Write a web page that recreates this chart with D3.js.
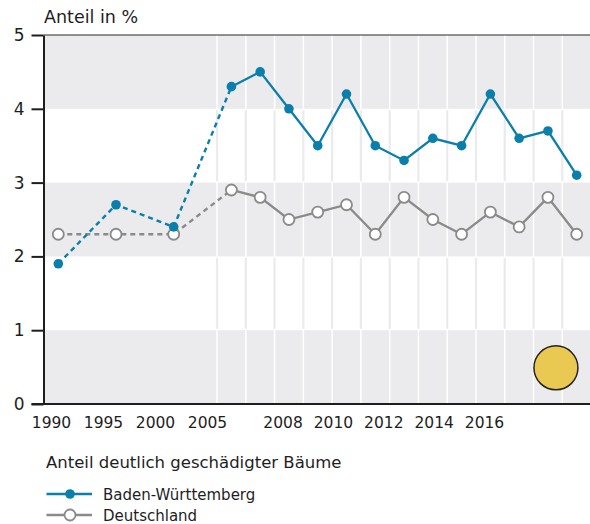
<!DOCTYPE html>
<html>
<head>
<meta charset="utf-8">
<script src="https://cdnjs.cloudflare.com/ajax/libs/d3/7.8.5/d3.min.js"></script>
<style>
  body { margin: 0; background: #fff; }
  text { font-family: "DejaVu Sans", sans-serif; fill: #1e1e1e; }
</style>
</head>
<body>
<div id="chart"></div>
<script>
// data
const years = [1990, 1995, 2000, 2005, 2006, 2007, 2008, 2009, 2010, 2011, 2012, 2013, 2014, 2015, 2016, 2017]
const bwValues = [1.9, 2.7, 2.4, 4.3, 4.5, 4.0, 3.5, 4.2, 3.5, 3.3, 3.6, 3.5, 4.2, 3.6, 3.7, 3.1]
const deValues = [2.3, 2.3, 2.3, 2.9, 2.8, 2.5, 2.6, 2.7, 2.3, 2.8, 2.5, 2.3, 2.6, 2.4, 2.8, 2.3]
const xTickYears = [1990, 1995, 2000, 2005, 2008, 2010, 2012, 2014, 2016]
const yTicks = [0, 1, 2, 3, 4, 5]
const seriesNames = ['Baden-Württemberg', 'Deutschland']
const yTitle = 'Anteil in %'
const legendTitle = 'Anteil deutlich geschädigter Bäume'

const width = 590, height = 524
const blue = '#0a7fab', grey = '#8a8a8a', band = '#ebebed'

const svg = d3.select('#chart').append('svg')
    .attr('width', width)
    .attr('height', height)

const plotLeft = 43.5, plotRight = width, plotTop = 35, plotBottom = 404

// data positions: five-year steps first, then yearly
const x = d3.scaleLinear()
    .domain([1990, 2005, 2017])
    .range([58.3, 231.4, 576.7])
// tick labels sit on their own, slightly shifted grid
const xLab = d3.scaleLinear()
    .domain([1990, 2005, 2016])
    .range([51, 207, 484])
const y = d3.scaleLinear()
    .domain([0, 5])
    .range([plotBottom, plotTop])

// horizontal bands
const bands = [[4, 5], [2, 3], [0, 1]]
svg.selectAll('rect.band')
    .data(bands)
    .join('rect')
        .attr('class', 'band')
        .attr('x', plotLeft)
        .attr('y', d => y(d[1]))
        .attr('width', plotRight - plotLeft)
        .attr('height', d => y(d[0]) - y(d[1]))
        .attr('fill', band)

// column separators from 2005 onward
const yearly = years.filter(d => d >= 2005)
const step = x(2006) - x(2005)
const seps = yearly.slice(0, -1).map(d => (x(d) + x(d + 1)) / 2)
seps.unshift(x(2005) - step / 2)

yTicks.slice(0, -1).forEach(v => {
    let isGrey = bands.some(b => b[0] === v)
    svg.append('g')
        .selectAll('line')
        .data(seps)
        .join('line')
            .attr('x1', d => d).attr('x2', d => d)
            .attr('y1', y(v + 1) + (isGrey ? 0 : 1.5))
            .attr('y2', y(v) - (isGrey ? 0 : 1.5))
            .attr('stroke', isGrey ? '#fff' : band)
            .attr('stroke-width', isGrey ? 1.5 : 2.2)
})

// top border
svg.append('line')
    .attr('x1', plotLeft).attr('x2', plotRight)
    .attr('y1', plotTop).attr('y2', plotTop)
    .attr('stroke', '#2a2a2a')
    .attr('stroke-width', 1.2)

// y axis
const yAxis = svg.append('g')
    .attr('transform', 'translate(' + plotLeft + ',0)')
    .call(d3.axisLeft(y).tickValues(yTicks).tickSize(12).tickSizeOuter(0).tickPadding(7).tickFormat(d3.format('d')))
yAxis.selectAll('path, line').attr('stroke', '#1e1e1e').attr('stroke-width', 2)
yAxis.selectAll('text')
    .attr('font-size', 17)
    .attr('font-family', '"DejaVu Sans", sans-serif')
    .attr('fill', '#1e1e1e')

// baseline
svg.append('line')
    .attr('x1', plotLeft - 12).attr('x2', plotRight)
    .attr('y1', y(0)).attr('y2', y(0))
    .attr('stroke', '#1e1e1e')
    .attr('stroke-width', 2)

// x labels
const xAxis = svg.append('g')
    .attr('transform', 'translate(0,' + plotBottom + ')')
    .call(d3.axisBottom(xLab).tickValues(xTickYears).tickSize(0).tickPadding(13).tickFormat(d3.format('d')))
xAxis.select('.domain').remove()
xAxis.selectAll('text')
    .attr('font-size', 15.5)
    .attr('font-family', '"DejaVu Sans", sans-serif')
    .attr('fill', '#1e1e1e')

// y title
svg.append('text')
    .attr('x', 44)
    .attr('y', 23)
    .attr('font-size', 17.5)
    .text(yTitle)

// series
const series = [
    {name: seriesNames[1], values: deValues, color: grey, hollow: true},
    {name: seriesNames[0], values: bwValues, color: blue, hollow: false}
]

const line = d3.line()
    .x(d => x(d.year))
    .y(d => y(d.value))

series.forEach(s => {
    let pts = years.map((yr, i) => ({year: yr, value: s.values[i]}))
    let early = pts.filter(d => d.year <= 2005)
    let late = pts.filter(d => d.year >= 2005)
    let g = svg.append('g')
    g.append('path')
        .attr('d', line(early))
        .attr('fill', 'none')
        .attr('stroke', s.color)
        .attr('stroke-width', 2.4)
        .attr('stroke-dasharray', '5,4')
    g.append('path')
        .attr('d', line(late))
        .attr('fill', 'none')
        .attr('stroke', s.color)
        .attr('stroke-width', 2.3)
    g.selectAll('circle')
        .data(pts)
        .join('circle')
            .attr('cx', d => x(d.year))
            .attr('cy', d => y(d.value))
            .attr('r', s.hollow ? 5.5 : 4.8)
            .attr('fill', s.hollow ? '#fff' : s.color)
            .attr('stroke', s.hollow ? s.color : 'none')
            .attr('stroke-width', 1.8)
})

// status indicator
svg.append('circle')
    .attr('cx', x(2016) + 8)
    .attr('cy', y(0.49))
    .attr('r', 22)
    .attr('fill', '#e9c952')
    .attr('stroke', '#222')
    .attr('stroke-width', 1.5)

// legend
svg.append('text')
    .attr('x', 46)
    .attr('y', 468)
    .attr('font-size', 16.5)
    .text(legendTitle)

const legend = svg.append('g')
    .selectAll('g')
    .data([series[1], series[0]])
    .join('g')
        .attr('transform', (d, i) => 'translate(0,' + (494 + i * 21) + ')')

legend.append('line')
    .attr('x1', 46.5).attr('x2', 92)
    .attr('stroke', d => d.color)
    .attr('stroke-width', 2.3)
legend.append('circle')
    .attr('cx', 70)
    .attr('r', d => d.hollow ? 5.5 : 4.8)
    .attr('fill', d => d.hollow ? '#fff' : d.color)
    .attr('stroke', d => d.hollow ? d.color : 'none')
    .attr('stroke-width', 1.8)
legend.append('text')
    .attr('x', 103)
    .attr('y', 5.5)
    .attr('font-size', 15)
    .text(d => d.name)
</script>
</body>
</html>
